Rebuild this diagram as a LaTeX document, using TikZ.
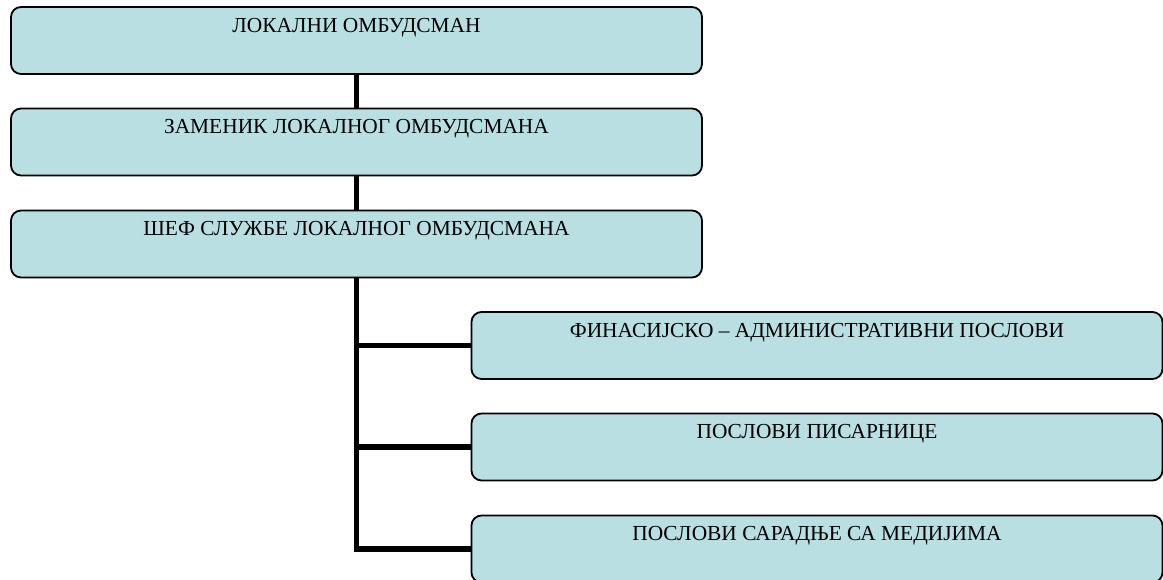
\documentclass[tikz,border=0pt]{standalone}
\usepackage{fontspec}
\setmainfont{Liberation Serif}
\usepackage{tikz}
\usetikzlibrary{positioning}
\definecolor{kutija}{RGB}{185,223,227}

\begin{document}
\begin{tikzpicture}[x=1pt, y=-1pt,
	box/.style={draw, line width=1.8pt, fill=kutija, rounded corners=10pt,
		minimum width=691pt, inner sep=0pt, text height=25pt, text depth=42pt,
		font=\fontsize{21.4}{25}\selectfont},
	veza/.style={line width=5.8pt}]
	\useasboundingbox (0,0) rectangle (1163,579);
	%Rukovodstvo
	\node [box] (lok) at (356.5,40.5) {ЛОКАЛНИ ОМБУДСМАН};
	\node [box] (zam) at (356.5,142) {ЗАМЕНИК ЛОКАЛНОГ ОМБУДСМАНА};
	\node [box] (shef) at (356.5,244) {ШЕФ СЛУЖБЕ ЛОКАЛНОГ ОМБУДСМАНА};
	%Poslovi
	\node [box] (fin) at (817,345.5) {ФИНАСИЈСКО – АДМИНИСТРАТИВНИ ПОСЛОВИ};
	\node [box] (pis) at (817,447) {ПОСЛОВИ ПИСАРНИЦЕ};
	\node [box] (med) at (817,549) {ПОСЛОВИ САРАДЊЕ СА МЕДИЈИМА};
	%Veze
	\draw [veza] (lok.south) -- (zam.north);
	\draw [veza] (zam.south) -- (shef.north);
	\draw [veza] (shef.south) |- (med.west);
	\draw [veza] (shef.south |- fin.west) -- (fin.west);
	\draw [veza] (shef.south |- pis.west) -- (pis.west);
\end{tikzpicture}
\end{document}
